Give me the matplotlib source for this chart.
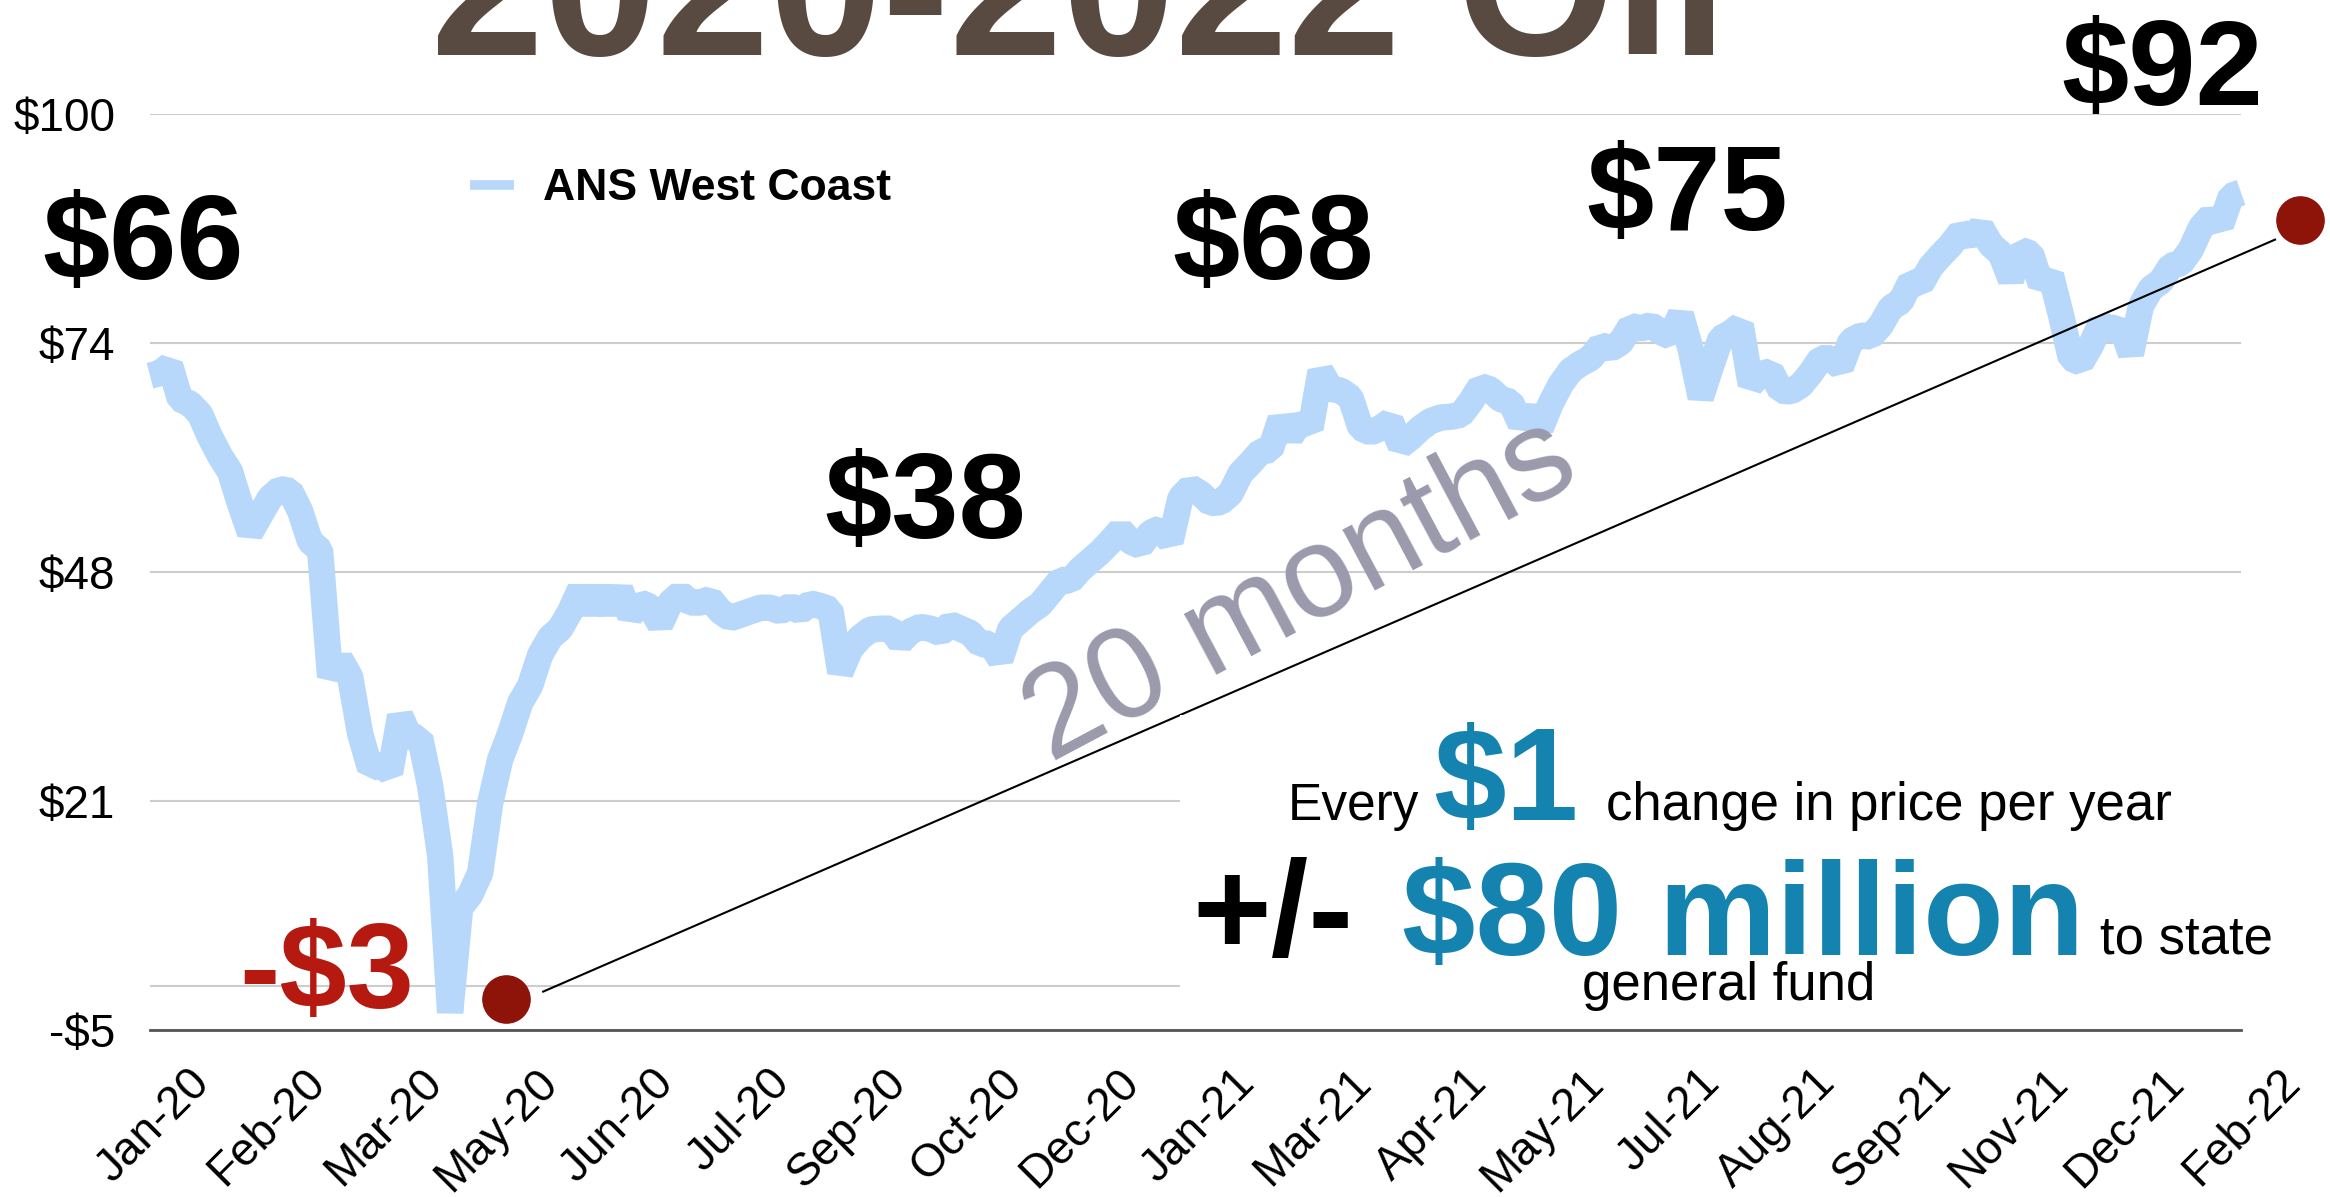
import matplotlib
matplotlib.use("Agg")
import matplotlib.pyplot as plt
import matplotlib.transforms as mtransforms
from matplotlib.lines import Line2D
from matplotlib.patches import Rectangle
import numpy as np

# ANS West Coast price (about every 2-3 trading days, Jan 2020 - Feb 2022)
ans_price = [
    70.0, 70.3, 71.2, 67.3, 66.8, 65.6, 63.0, 60.8, 59.0, 55.3,
    52.0, 54.0, 56.0, 57.0, 56.8, 54.5, 51.0, 50.0, 35.5, 37.5,
    35.5, 29.0, 25.0, 25.5, 24.5, 31.0, 28.5, 28.5, 23.0, 15.0,
    -3.0, 9.0, 10.5, 13.0, 21.0, 26.0, 29.0, 32.5, 34.5, 38.0,
    40.0, 41.0, 43.0, 45.5, 43.0, 45.5, 43.0, 45.5, 42.5, 44.0,
    43.5, 41.5, 44.0, 45.0, 44.0, 44.0, 44.4, 43.0, 42.2, 42.6,
    43.0, 43.4, 43.4, 43.0, 43.6, 43.0, 43.9, 43.6, 43.2, 36.0,
    38.7, 40.0, 40.9, 41.0, 41.0, 39.5, 40.7, 41.2, 41.0, 40.5,
    41.5, 41.0, 40.5, 39.2, 39.3, 37.5, 41.0, 42.0, 43.0, 43.8,
    45.2, 46.6, 46.5, 47.8, 48.8, 49.8, 51.0, 52.3, 51.0, 50.5,
    52.0, 52.5, 51.0, 56.0, 57.2, 56.5, 55.4, 55.5, 56.5, 58.8,
    60.0, 61.3, 61.5, 65.0, 63.0, 64.9, 64.0, 70.5, 68.5, 68.3,
    67.5, 64.0, 63.5, 64.0, 64.8, 62.0, 62.9, 64.0, 64.8, 65.2,
    65.3, 65.5, 67.0, 68.8, 68.4, 67.3, 67.0, 64.5, 66.0, 64.0,
    66.8, 69.0, 70.6, 71.4, 72.0, 73.5, 73.1, 73.8, 75.7, 75.4,
    75.8, 75.0, 74.5, 77.0, 73.0, 67.5, 71.0, 74.3, 74.9, 75.8,
    69.0, 70.2, 70.5, 68.3, 68.2, 68.9, 70.3, 72.0, 72.0, 71.0,
    74.0, 74.6, 74.5, 75.8, 77.8, 78.5, 80.8, 80.5, 82.5, 83.8,
    85.0, 86.5, 85.8, 87.0, 85.0, 84.0, 81.0, 84.4, 84.0, 80.5,
    81.5, 77.0, 72.0, 71.5, 73.5, 76.0, 75.0, 75.8, 72.5, 78.0,
    80.0, 80.8, 82.6, 82.9, 84.5, 87.0, 88.3, 87.3, 90.6, 91.0,
]

month_labels = [
    "Jan-20", "Feb-20", "Mar-20", "May-20", "Jun-20", "Jul-20", "Sep-20",
    "Oct-20", "Dec-20", "Jan-21", "Mar-21", "Apr-21", "May-21", "Jul-21",
    "Aug-21", "Sep-21", "Nov-21", "Dec-21", "Feb-22",
]

price_ticks = [-5, 21.25, 47.5, 73.75, 100]
price_tick_labels = ["-$5", "$21", "$48", "$74", "$100"]

# red end-point dots and the connector between them (data units)
dot_x = [35.6, 214.9]
dot_y = [-1.5, 87.9]
connector_x = [39.3, 212.4]
connector_y = [-0.6, 85.6]

LINE_BLUE = "#B7D8FA"
TEAL = "#1583B0"
DOT_RED = "#8E1309"
LABEL_RED = "#B5190F"
TITLE_BROWN = "#584A40"
GRID_GRAY = "#CDCDCD"

plt.rcParams["font.family"] = ["Liberation Sans", "DejaVu Sans"]

W, H = 2330, 1197
fig = plt.figure(figsize=(W / 100, H / 100), dpi=100)
ax = fig.add_axes([150 / W, 1 - 1030 / H, 2091 / W, 916 / H])

x = np.arange(len(ans_price))
ax.plot(x, ans_price, color=LINE_BLUE, lw=19, solid_joinstyle="bevel",
        solid_capstyle="butt", clip_on=False, zorder=3)

ax.set_xlim(0, len(ans_price) - 1)
ax.set_ylim(-5, 100)

ax.set_yticks(price_ticks)
ax.set_yticklabels(price_tick_labels)
ax.yaxis.grid(True, color=GRID_GRAY, lw=1.5)
ax.axhline(0, color=GRID_GRAY, lw=1.5, zorder=0.5)
ax.set_axisbelow(True)
ax.tick_params(axis="y", length=0, pad=25, labelsize=33)

ax.set_xticks(np.linspace(0, len(ans_price) - 1, len(month_labels)))
ax.set_xticklabels(month_labels, rotation=45, ha="right", va="top",
                   rotation_mode="anchor")
ax.tick_params(axis="x", length=0, pad=22, labelsize=33)
offset = mtransforms.ScaledTranslation(0.37, 0, fig.dpi_scale_trans)
for lbl in ax.get_xticklabels():
    lbl.set_transform(lbl.get_transform() + offset)

for side in ["top", "right", "left"]:
    ax.spines[side].set_visible(False)
ax.spines["bottom"].set_color("#555555")
ax.spines["bottom"].set_linewidth(2)

# white panel behind the revenue note (hides the lower gridlines there)
fig.patches.append(Rectangle((1180 / W, 1 - 1015 / H), 1 - 1180 / W, 300 / H,
                             transform=fig.transFigure, facecolor="white",
                             edgecolor="none", zorder=1.5))

ax.plot(connector_x, connector_y, color="black", lw=1.5, clip_on=False, zorder=4)
ax.plot(dot_x, dot_y, "o", color=DOT_RED, markersize=34, clip_on=False, zorder=5)

handle = Line2D([], [], color=LINE_BLUE, lw=7, solid_capstyle="butt")
ax.legend([handle], ["ANS West Coast"], loc="center left",
          bbox_to_anchor=(470 / W, 1 - 189 / H), bbox_transform=fig.transFigure,
          frameon=False, borderpad=0, borderaxespad=0, handlelength=1.0,
          handletextpad=0.65, prop={"size": 32, "weight": "bold"})

# title (cut off at the top edge)
fig.text(1079 / W, 1 - 55 / H, "2020-2022 Oil", ha="center", va="baseline",
         fontsize=146, fontweight="bold", color=TITLE_BROWN)

big = dict(fontsize=87, fontweight="bold", va="baseline", ha="left")
fig.text(42 / W, 1 - 279 / H, "$66", color="black", **big)
fig.text(824 / W, 1 - 538 / H, "$38", color="black", **big)
fig.text(1172 / W, 1 - 279 / H, "$68", color="black", **big)
fig.text(1586 / W, 1 - 230 / H, "$75", color="black", **big)
fig.text(2061 / W, 1 - 105 / H, "$92", color="black", **big)
fig.text(239 / W, 1 - 1008 / H, "-$3", color=LABEL_RED, **big)

fig.text(1301 / W, 1 - 592 / H, "20 months", ha="center", va="center",
         rotation=28, rotation_mode="anchor", fontsize=93, color="#9A9AAC",
         zorder=4)

fig.text(1288 / W, 1 - 820 / H, "Every", fontsize=37, va="baseline")
fig.text(1433 / W, 1 - 820 / H, "$1", fontsize=94, fontweight="bold",
         color=TEAL, va="baseline")
fig.text(1606 / W, 1 - 820 / H, "change in price per year", fontsize=38,
         va="baseline")
fig.text(1192 / W, 1 - 955 / H, "+/-", fontsize=97, fontweight="bold",
         va="baseline")
fig.text(1402 / W, 1 - 955 / H, "$80 million", fontsize=95, fontweight="bold",
         color=TEAL, va="baseline")
fig.text(2100 / W, 1 - 953 / H, "to state", fontsize=38, va="baseline")
fig.text(1582 / W, 1 - 1000 / H, "general fund", fontsize=38, va="baseline")

fig.savefig("out.png", dpi=100, facecolor="white")
